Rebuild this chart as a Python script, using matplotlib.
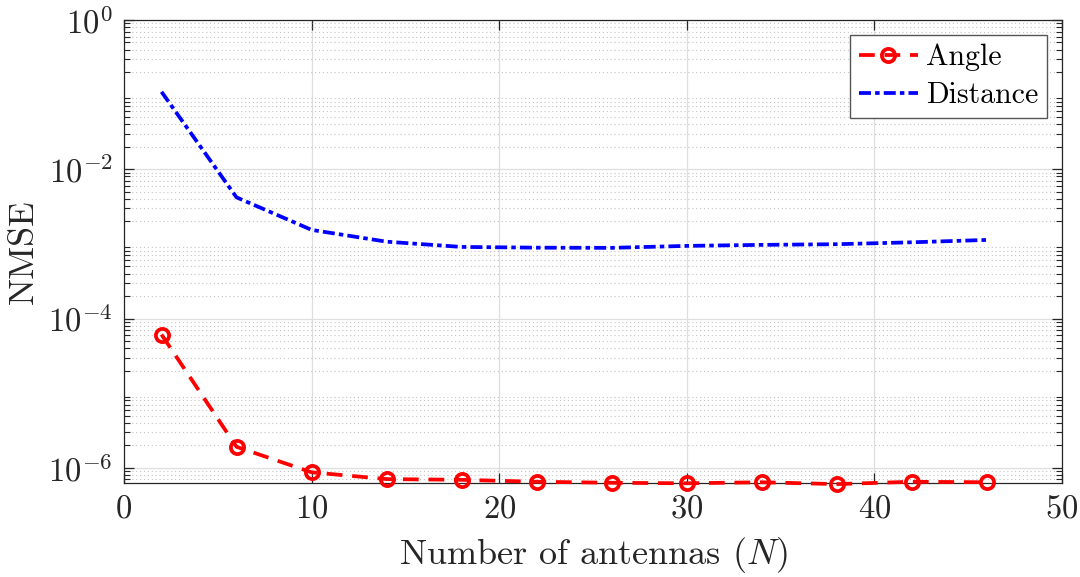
import numpy as np
import matplotlib
matplotlib.use("Agg")
import matplotlib.pyplot as plt
from matplotlib.ticker import LogLocator, NullFormatter

plt.rcParams['font.family'] = 'serif'
plt.rcParams['font.serif'] = ['cmr10', 'DejaVu Serif']
plt.rcParams['mathtext.fontset'] = 'cm'
plt.rcParams['axes.formatter.use_mathtext'] = True

antennas = [2, 6, 10, 14, 18, 22, 26, 30, 34, 38, 42, 46]
nmse_angle = [6.1e-5, 1.91e-6, 8.7e-7, 7.06e-7, 6.9e-7, 6.5e-7,
              6.3e-7, 6.2e-7, 6.4e-7, 6.05e-7, 6.5e-7, 6.4e-7]
nmse_distance = [1.09e-1, 4.2e-3, 1.54e-3, 1.07e-3, 9.1e-4, 8.9e-4,
                 8.85e-4, 9.4e-4, 9.7e-4, 9.9e-4, 1.05e-3, 1.13e-3]

axc = '#262626'
fig = plt.figure(figsize=(10.8, 5.77), dpi=100)
ax = fig.add_axes([0.1148, 0.1624, 0.8685, 0.803])

ax.plot(antennas, nmse_angle, color='red', linestyle=(0, (4.2, 2.6)), lw=2.7,
        marker='o', markersize=9.5, markerfacecolor='none', markeredgewidth=2.7,
        label='Angle', clip_on=False, zorder=3)
ax.plot(antennas, nmse_distance, color='blue', linestyle=(0, (3.2, 1.1, 1.2, 1.1)), lw=2.7,
        label='Distance', zorder=3)

ax.set_yscale('log')
ax.set_xlim(0, 50)
ax.set_ylim(6.2e-7, 1)
ax.set_xticks([0, 10, 20, 30, 40, 50])
ax.set_yticks([1e-6, 1e-4, 1e-2, 1e0])
ax.yaxis.set_minor_locator(LogLocator(base=10, subs=np.arange(2, 10), numticks=20))
ax.yaxis.set_minor_formatter(NullFormatter())

ax.grid(True, which='major', color='#dedede', lw=0.9, linestyle='-')
ax.grid(True, which='minor', axis='y', color='#c4c4c4', lw=0.8, linestyle=(0, (1, 2.5)))
ax.set_axisbelow(True)

ax.tick_params(which='both', direction='in', top=True, right=True, colors=axc,
               labelsize=23.5, pad=8)
ax.tick_params(which='major', length=7, width=0.9)
ax.tick_params(which='minor', length=4, width=0.8)
for s in ax.spines.values():
    s.set_color(axc)
    s.set_linewidth(0.9)

ax.set_xlabel('Number of antennas ($N$)', fontsize=26, color=axc, labelpad=8)
ax.set_ylabel('NMSE', fontsize=26, color=axc, labelpad=6)

leg = ax.legend(loc='upper right', fontsize=21.5, frameon=True, fancybox=False,
                edgecolor='#555555', framealpha=1, handlelength=2.0, handletextpad=0.25,
                borderpad=0.3, labelspacing=0.35, borderaxespad=0.5)
leg.get_frame().set_linewidth(1.0)

fig.savefig('out.png', dpi=100)
